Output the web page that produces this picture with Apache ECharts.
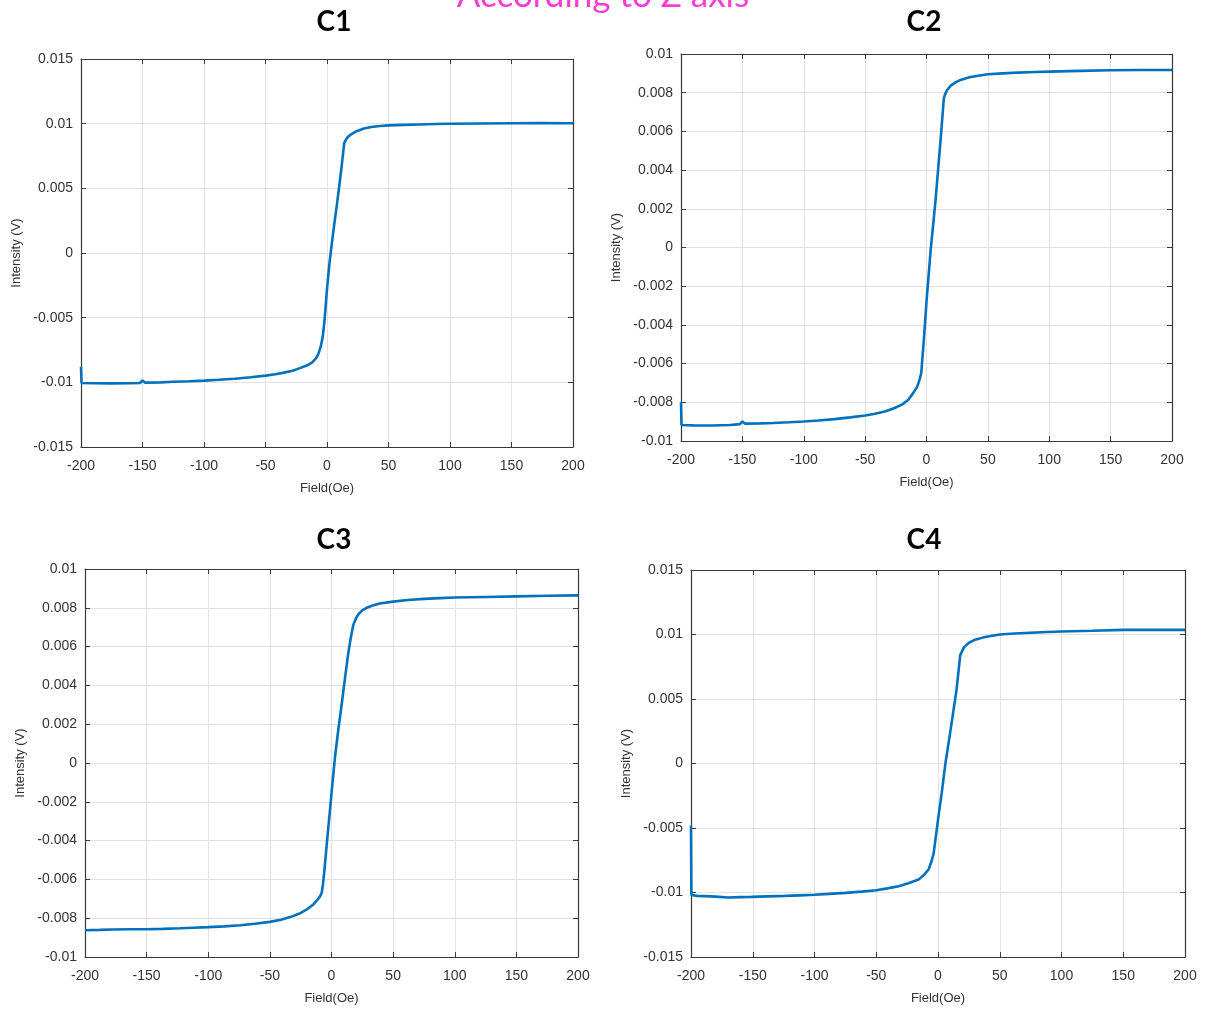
<!DOCTYPE html>
<html>
<head>
<meta charset="utf-8">
<script src="https://cdn.jsdelivr.net/npm/echarts@6/dist/echarts.min.js"></script>
<style>
html,body{margin:0;padding:0;background:#fff;}
#chart{width:1213px;height:1010px;}
</style>
</head>
<body>
<div id="chart"></div>
<script>
// ---------- DATA ----------
const pageTitle = 'According to Z axis';
const panelTitles = ['C1', 'C2', 'C3', 'C4'];
const xAxisName = 'Field(Oe)';
const yAxisName = 'Intensity (V)';
const xTicks = ['-200', '-150', '-100', '-50', '0', '50', '100', '150', '200'];
const yTicksWide = ['-0.015', '-0.01', '-0.005', '0', '0.005', '0.01', '0.015'];
const yTicksNarrow = ['-0.01', '-0.008', '-0.006', '-0.004', '-0.002', '0', '0.002', '0.004', '0.006', '0.008', '0.01'];

const c1Field = [-200, -199.6, -190, -175, -160, -152, -150, -148, -135, -125, -112, -100, -88, -75, -62, -50, -42, -35, -28, -22, -16, -12, -9, -7, -5, -3.5, -2, 0, 2, 4, 6, 8, 10, 12, 14, 15.5, 17, 20, 24, 30, 36, 43, 50, 62, 75, 88, 100, 125, 150, 175, 200];
const c1Intensity = [-0.0088, -0.01005, -0.01007, -0.01008, -0.01007, -0.01005, -0.00986, -0.01002, -0.01, -0.00996, -0.00992, -0.00987, -0.0098, -0.00972, -0.00961, -0.00948, -0.00937, -0.00925, -0.0091, -0.0089, -0.00868, -0.00846, -0.00815, -0.0078, -0.0072, -0.0065, -0.0052, -0.0028, -0.0008, 0.0008, 0.0023, 0.0037, 0.0052, 0.0068, 0.0085, 0.00878, 0.00898, 0.0092, 0.00942, 0.00962, 0.00974, 0.00982, 0.00987, 0.00991, 0.00994, 0.00997, 0.00999, 0.01001, 0.01003, 0.01004, 0.01003];

const c2Field = [-200, -199.6, -190, -175, -160, -152, -150, -148, -135, -125, -112, -100, -88, -75, -62, -50, -42, -34, -27, -20, -15, -10.6, -7.6, -5.5, -4.3, -2.2, 0, 3.3, 7.3, 11.4, 14.1, 15, 16.8, 20, 24, 27.7, 35, 42, 50, 62, 75, 88, 100, 125, 150, 175, 200];
const c2Intensity = [-0.008, -0.00917, -0.00919, -0.0092, -0.00917, -0.00913, -0.00899, -0.0091, -0.00909, -0.00907, -0.00903, -0.00899, -0.00894, -0.00887, -0.00878, -0.00868, -0.00859, -0.00847, -0.00832, -0.00812, -0.00788, -0.0075, -0.0072, -0.0068, -0.0065, -0.0048, -0.0028, -0.0002, 0.0024, 0.0055, 0.0077, 0.0079, 0.00814, 0.00838, 0.00855, 0.00866, 0.0088, 0.00888, 0.00895, 0.009, 0.00904, 0.00907, 0.00909, 0.00913, 0.00916, 0.00917, 0.00917];

const c3Field = [-200, -188, -177, -163, -150, -137, -123, -112, -100, -87, -74, -62, -50, -41, -33, -26, -20, -15, -11.7, -9.5, -8, -7, -6, -4, -1.5, 1, 3, 5.5, 8, 11, 13.7, 15.5, 17.7, 20, 22, 25, 28.5, 34, 39.3, 50, 62, 75, 88, 100, 125, 150, 175, 200];
const c3Intensity = [-0.00862, -0.0086, -0.00858, -0.00857, -0.00857, -0.00855, -0.00852, -0.00849, -0.00846, -0.00842, -0.00836, -0.00829, -0.00819, -0.00808, -0.00793, -0.00776, -0.00755, -0.00731, -0.00707, -0.0069, -0.0067, -0.0063, -0.0057, -0.0043, -0.0026, -0.0009, 0.0004, 0.0017, 0.0029, 0.0044, 0.0057, 0.0064, 0.00712, 0.00748, 0.00768, 0.00787, 0.008, 0.00813, 0.00822, 0.00832, 0.0084, 0.00846, 0.0085, 0.00853, 0.00856, 0.00859, 0.00862, 0.00864];

const c4Field = [-200, -199.7, -195, -189, -180, -170, -160, -151, -138, -124, -112, -100, -88, -75, -62, -50, -41, -32, -24, -15.7, -11, -7.5, -5, -3.6, -1.5, 0.5, 3, 6, 10.5, 15, 18, 21, 25, 30, 38, 50, 62, 75, 88, 100, 125, 150, 175, 200];
const c4Intensity = [-0.0048, -0.0102, -0.01026, -0.01028, -0.01032, -0.01039, -0.01036, -0.01034, -0.0103, -0.01026, -0.01022, -0.01018, -0.01011, -0.01003, -0.00993, -0.00982, -0.00968, -0.00951, -0.00928, -0.009, -0.0086, -0.0082, -0.0075, -0.007, -0.0055, -0.004, -0.0023, 0, 0.0028, 0.0057, 0.0084, 0.009, 0.00935, 0.0096, 0.0098, 0.01, 0.01008, 0.01014, 0.01019, 0.01023, 0.01029, 0.01036, 0.01036, 0.01036];

// ---------- LAYOUT / STYLE ----------
const panels = [
  { field: c1Field, intensity: c1Intensity, yTicks: yTicksWide,   grid: { left: 81,  top: 59,  width: 492, height: 388 } },
  { field: c2Field, intensity: c2Intensity, yTicks: yTicksNarrow, grid: { left: 681, top: 54,  width: 491, height: 387 } },
  { field: c3Field, intensity: c3Intensity, yTicks: yTicksNarrow, grid: { left: 85,  top: 569, width: 493, height: 388 } },
  { field: c4Field, intensity: c4Intensity, yTicks: yTicksWide,   grid: { left: 691, top: 570, width: 494, height: 387 } }
];
const titleLefts = [329, 919, 329, 919];
const titleTops = [3, 3, 521, 521];

const axisColor = '#3a3a3a';
const textColor = '#333333';
const gridColor = '#e2e2e2';
const lineColor = '#0072BD';
const font = 'Liberation Sans';

function labelFrom(ticks) {
  return function (v) {
    for (const t of ticks) { if (Math.abs(parseFloat(t) - v) < 1e-9) return t; }
    return '';
  };
}

const grids = [], xAxes = [], yAxes = [], series = [], titles = [];
panels.forEach((p, i) => {
  grids.push(Object.assign({ containLabel: false }, p.grid));
  const xMin = parseFloat(xTicks[0]), xMax = parseFloat(xTicks[xTicks.length - 1]);
  const xInt = parseFloat(xTicks[1]) - parseFloat(xTicks[0]);
  const yMin = parseFloat(p.yTicks[0]), yMax = parseFloat(p.yTicks[p.yTicks.length - 1]);
  const yInt = parseFloat(p.yTicks[1]) - parseFloat(p.yTicks[0]);
  const tick = { show: true, inside: true, length: 5, lineStyle: { color: axisColor, width: 1 } };
  const line = { show: true, onZero: false, lineStyle: { color: axisColor, width: 1.2 } };
  xAxes.push({
    type: 'value', gridIndex: i, position: 'bottom', min: xMin, max: xMax, interval: xInt,
    axisLine: line, axisTick: tick,
    axisLabel: { margin: 12, color: textColor, fontFamily: font, fontSize: 14, formatter: labelFrom(xTicks) },
    splitLine: { show: true, lineStyle: { color: gridColor, width: 1 } },
    name: xAxisName, nameLocation: 'middle', nameGap: 35,
    nameTextStyle: { color: textColor, fontFamily: font, fontSize: 13 }
  });
  xAxes.push({
    type: 'value', gridIndex: i, position: 'top', min: xMin, max: xMax, interval: xInt,
    axisLine: line, axisTick: tick, axisLabel: { show: false }, splitLine: { show: false }
  });
  yAxes.push({
    type: 'value', gridIndex: i, position: 'left', min: yMin, max: yMax, interval: yInt,
    axisLine: line, axisTick: tick,
    axisLabel: { margin: 8, color: textColor, fontFamily: font, fontSize: 14, formatter: labelFrom(p.yTicks) },
    splitLine: { show: true, lineStyle: { color: gridColor, width: 1 } },
    name: yAxisName, nameLocation: 'middle', nameGap: 58, nameRotate: 90,
    nameTextStyle: { color: textColor, fontFamily: font, fontSize: 13 }
  });
  yAxes.push({
    type: 'value', gridIndex: i, position: 'right', min: yMin, max: yMax, interval: yInt,
    axisLine: line, axisTick: tick, axisLabel: { show: false }, splitLine: { show: false }
  });
  series.push({
    type: 'line', xAxisIndex: 2 * i, yAxisIndex: 2 * i,
    data: p.field.map((f, k) => [f, p.intensity[k]]),
    showSymbol: false, smooth: false, silent: true,
    lineStyle: { color: lineColor, width: 2.6 }
  });
  titles.push({
    text: panelTitles[i], left: titleLefts[i], top: titleTops[i], textAlign: 'center',
    textStyle: { fontFamily: 'Lato', fontWeight: 'bold', fontSize: 28, color: '#000' }
  });
});

const chart = echarts.init(document.getElementById('chart'), null, { renderer: 'canvas' });
chart.setOption({
  backgroundColor: '#ffffff',
  animation: false,
  title: titles,
  grid: grids,
  xAxis: xAxes,
  yAxis: yAxes,
  series: series,
  graphic: [{
    type: 'text', x: 603, y: -4, silent: true,
    style: { text: pageTitle, font: '35px Lato', fill: '#ff3ccf', align: 'center', verticalAlign: 'middle', textAlign: 'center', textVerticalAlign: 'middle' }
  }]
});
</script>
</body>
</html>
